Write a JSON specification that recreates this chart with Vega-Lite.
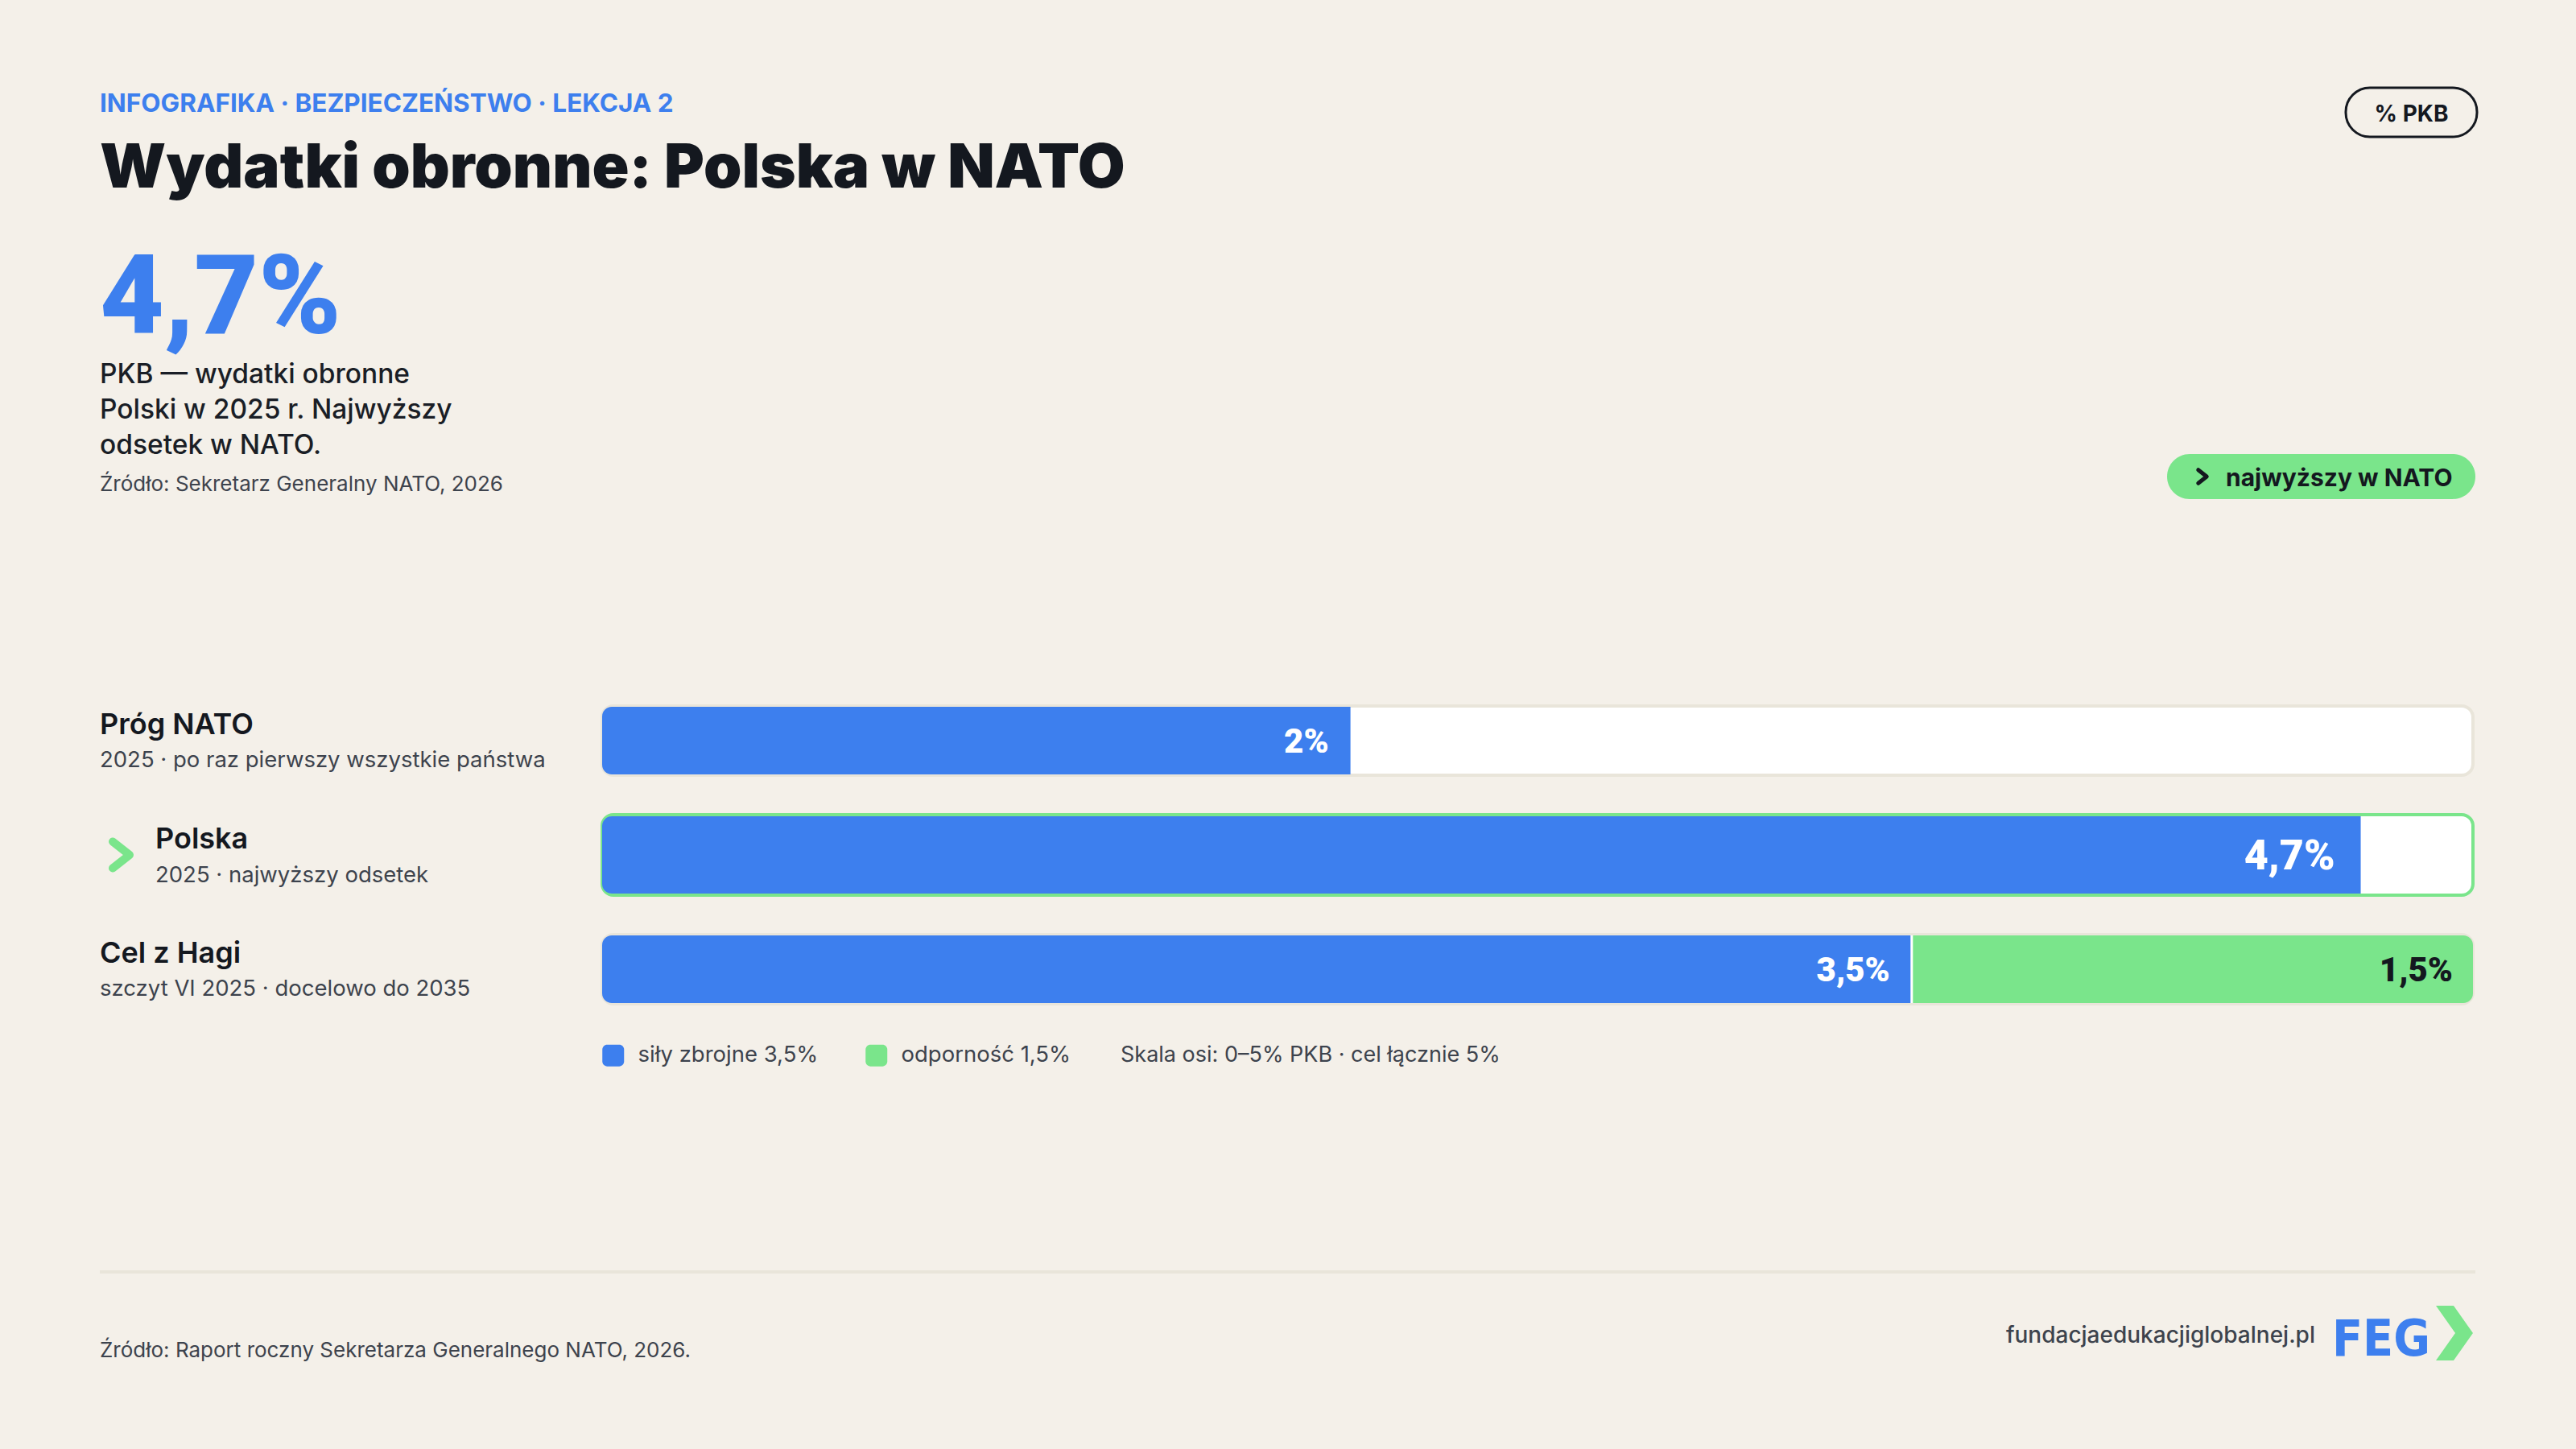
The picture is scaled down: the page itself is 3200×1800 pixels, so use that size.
{
  "$schema": "https://vega.github.io/schema/vega-lite/v6.json",
  "background": "#F4F0E9",
  "padding": {"left": 124, "right": 124, "top": 107, "bottom": 71},
  "spacing": 0,
  "resolve": {"scale": {"color": "independent"}, "legend": {"color": "independent"}},
  "config": {
    "view": {"stroke": null},
    "text": {"font": "Inter"},
    "concat": {"spacing": 0}
  },
  "datasets": {
    "teksty": [
      {"rola": "kicker", "tekst": "INFOGRAFIKA · BEZPIECZEŃSTWO · LEKCJA 2"},
      {"rola": "tytul", "tekst": "Wydatki obronne: Polska w NATO"},
      {"rola": "jednostka", "tekst": "% PKB"},
      {"rola": "liczba", "tekst": "4,7%"},
      {"rola": "opis", "tekst": "PKB — wydatki obronne\nPolski w 2025 r. Najwyższy\nodsetek w NATO."},
      {"rola": "zrodlo_gora", "tekst": "Źródło: Sekretarz Generalny NATO, 2026"},
      {"rola": "wyroznienie", "tekst": "najwyższy w NATO"},
      {"rola": "zrodlo", "tekst": "Źródło: Raport roczny Sekretarza Generalnego NATO, 2026."},
      {"rola": "www", "tekst": "fundacjaedukacjiglobalnej.pl"},
      {"rola": "logo", "tekst": "FEG"}
    ],
    "wiersze": [
      {"wiersz": "Próg NATO", "opis": "2025 · po raz pierwszy wszystkie państwa"},
      {"wiersz": "Polska", "opis": "2025 · najwyższy odsetek"},
      {"wiersz": "Cel z Hagi", "opis": "szczyt VI 2025 · docelowo do 2035"}
    ],
    "slupki": [
      {"wiersz": "Próg NATO", "skladnik": "ogółem", "od": 0, "do": 2, "etykieta": "2%"},
      {"wiersz": "Polska", "skladnik": "ogółem", "od": 0, "do": 4.7, "etykieta": "4,7%"},
      {"wiersz": "Cel z Hagi", "skladnik": "siły zbrojne 3,5%", "od": 0, "do": 3.5, "etykieta": "3,5%"},
      {"wiersz": "Cel z Hagi", "skladnik": "odporność 1,5%", "od": 3.5, "do": 5, "etykieta": "1,5%"}
    ]
  },
  "vconcat": [
    {
      "spacing": 0,
      "hconcat": [
        {
          "width": 2788, "height": 61,
          "data": {"name": "teksty"},
          "transform": [{"filter": "datum.rola === 'kicker'"}],
          "mark": {"type": "text", "align": "left", "baseline": "alphabetic", "dy": -1, "font": "Inter", "fontSize": 31.5, "fontWeight": 700, "color": "#3D7FEE"},
          "encoding": {
            "text": {"field": "tekst", "type": "nominal"},
            "x": {"datum": 0, "type": "quantitative", "scale": {"domain": [0, 1]}, "axis": null}
          }
        },
        {
          "width": 163, "height": 61,
          "view": {"stroke": "#14181F", "strokeWidth": 3, "cornerRadius": 30, "fill": null},
          "data": {"name": "teksty"},
          "transform": [{"filter": "datum.rola === 'jednostka'"}],
          "mark": {"type": "text", "align": "center", "baseline": "alphabetic", "dy": 11.5, "font": "Inter", "fontSize": 28, "fontWeight": 700, "color": "#14181F"},
          "encoding": {"text": {"field": "tekst", "type": "nominal"}}
        }
      ]
    },
    {
      "width": 2951, "height": 80,
      "data": {"name": "teksty"},
      "transform": [{"filter": "datum.rola === 'tytul'"}],
      "mark": {"type": "text", "align": "left", "baseline": "alphabetic", "dy": 20, "font": "Inter", "fontSize": 76, "fontWeight": 900, "color": "#14181F"},
      "encoding": {
        "text": {"field": "tekst", "type": "nominal"},
        "x": {"datum": 0, "type": "quantitative", "scale": {"domain": [0, 1]}, "axis": null}
      }
    },
    {
      "width": 2951, "height": 191,
      "data": {"name": "teksty"},
      "transform": [{"filter": "datum.rola === 'liczba'"}],
      "mark": {"type": "text", "align": "left", "baseline": "alphabetic", "dy": 65.5, "font": "Roboto", "fontSize": 138, "fontWeight": 900, "color": "#3D7FEE"},
      "encoding": {
        "text": {"field": "tekst", "type": "nominal"},
        "x": {"datum": 0, "type": "quantitative", "scale": {"domain": [0, 1]}, "axis": null}
      }
    },
    {
      "spacing": 0,
      "hconcat": [
        {
          "width": 2568, "height": 405,
          "data": {"name": "teksty"},
          "encoding": {
            "text": {"field": "tekst", "type": "nominal"},
            "x": {"datum": 0, "type": "quantitative", "scale": {"domain": [0, 1]}, "axis": null}
          },
          "layer": [
            {
              "transform": [{"filter": "datum.rola === 'opis'"}],
              "mark": {"type": "text", "align": "left", "baseline": "alphabetic", "dy": -170.5, "lineBreak": "\n", "lineHeight": 44, "font": "Inter", "fontSize": 33.5, "fontWeight": 500, "color": "#1A1E26"}
            },
            {
              "transform": [{"filter": "datum.rola === 'zrodlo_gora'"}],
              "mark": {"type": "text", "align": "left", "baseline": "alphabetic", "dy": -36.5, "font": "Inter", "fontSize": 26, "fontWeight": 400, "color": "#3D434D"}
            }
          ]
        },
        {
          "spacing": 0,
          "vconcat": [
            {"width": 383, "height": 120, "data": {"values": []}, "mark": "point"},
            {
              "width": 383, "height": 56,
              "view": {"fill": "#7AE58B", "stroke": null, "cornerRadius": 28},
              "data": {"name": "teksty"},
              "transform": [{"filter": "datum.rola === 'wyroznienie'"}],
              "encoding": {
                "x": {"datum": 0, "type": "quantitative", "scale": {"domain": [0, 1]}, "axis": null}
              },
              "layer": [
                {
                  "mark": {"type": "point", "shape": "M-0.35,-0.55L0.35,0L-0.35,0.55", "size": 900, "filled": false, "color": "#14181F", "stroke": "#14181F", "strokeWidth": 5, "strokeCap": "round", "strokeJoin": "round", "opacity": 1, "xOffset": 44}
                },
                {
                  "mark": {"type": "text", "align": "left", "baseline": "alphabetic", "dx": 73, "dy": 12, "font": "Inter", "fontSize": 30, "fontWeight": 700, "color": "#14181F"},
                  "encoding": {"text": {"field": "tekst", "type": "nominal"}}
                }
              ]
            }
          ]
        }
      ]
    },
    {
      "spacing": 0,
      "resolve": {"scale": {"color": "independent"}, "legend": {"color": "independent"}},
      "hconcat": [
        {
          "width": 622, "height": 426,
          "data": {"name": "wiersze"},
          "encoding": {
            "y": {"field": "wiersz", "type": "nominal", "sort": null, "scale": {"type": "band", "domain": ["Próg NATO", "Polska", "Cel z Hagi"], "paddingInner": 0, "paddingOuter": 0}, "axis": null},
            "x": {"datum": 0, "type": "quantitative", "scale": {"domain": [0, 1]}, "axis": null}
          },
          "layer": [
            {
              "transform": [{"filter": "datum.wiersz !== 'Polska'"}],
              "mark": {"type": "text", "align": "left", "baseline": "alphabetic", "dy": -8, "font": "Inter", "fontSize": 36, "fontWeight": 600, "color": "#14181F"},
              "encoding": {"text": {"field": "wiersz", "type": "nominal"}}
            },
            {
              "transform": [{"filter": "datum.wiersz === 'Polska'"}],
              "mark": {"type": "text", "align": "left", "baseline": "alphabetic", "dx": 69, "dy": -8, "font": "Inter", "fontSize": 36, "fontWeight": 600, "color": "#14181F"},
              "encoding": {"text": {"field": "wiersz", "type": "nominal"}}
            },
            {
              "transform": [{"filter": "datum.wiersz !== 'Polska'"}],
              "mark": {"type": "text", "align": "left", "baseline": "alphabetic", "dy": 33, "font": "Inter", "fontSize": 27.5, "fontWeight": 400, "color": "#3D434D"},
              "encoding": {"text": {"field": "opis", "type": "nominal"}}
            },
            {
              "transform": [{"filter": "datum.wiersz === 'Polska'"}],
              "mark": {"type": "text", "align": "left", "baseline": "alphabetic", "dx": 69, "dy": 34, "font": "Inter", "fontSize": 27.5, "fontWeight": 400, "color": "#3D434D"},
              "encoding": {"text": {"field": "opis", "type": "nominal"}}
            },
            {
              "transform": [{"filter": "datum.wiersz === 'Polska'"}],
              "mark": {"type": "point", "shape": "M-0.35,-0.55L0.35,0L-0.35,0.55", "size": 3600, "filled": false, "color": "#7AE58B", "stroke": "#7AE58B", "strokeWidth": 10, "strokeCap": "round", "strokeJoin": "round", "opacity": 1, "xOffset": 26.5}
            }
          ]
        },
        {
          "width": 2324, "height": 426,
          "encoding": {
            "y": {"field": "wiersz", "type": "nominal", "sort": null, "scale": {"type": "band", "domain": ["Próg NATO", "Polska", "Cel z Hagi"], "paddingInner": 0, "paddingOuter": 0}, "axis": null}
          },
          "layer": [
            {
              "data": {"name": "wiersze"},
              "transform": [{"filter": "datum.wiersz !== 'Polska'"}],
              "mark": {"type": "bar", "height": 86, "fill": "#FFFFFF", "stroke": "#E9E5DA", "strokeWidth": 4, "cornerRadius": 14},
              "encoding": {
                "x": {"datum": 0, "type": "quantitative", "scale": {"domain": [0, 5], "nice": false, "zero": true}, "axis": null},
                "x2": {"datum": 5}
              }
            },
            {
              "data": {"name": "wiersze"},
              "transform": [{"filter": "datum.wiersz === 'Polska'"}],
              "mark": {"type": "bar", "height": 100, "fill": "#FFFFFF", "stroke": "#7AE58B", "strokeWidth": 4, "cornerRadius": 14},
              "encoding": {
                "x": {"datum": 0, "type": "quantitative", "scale": {"domain": [0, 5], "nice": false, "zero": true}, "axis": null},
                "x2": {"datum": 5}
              }
            },
            {
              "data": {"name": "slupki"},
              "transform": [{"filter": "datum.wiersz === 'Próg NATO'"}],
              "mark": {"type": "bar", "height": 84, "color": "#3D7FEE", "cornerRadiusTopLeft": 12, "cornerRadiusBottomLeft": 12},
              "encoding": {
                "x": {"field": "od", "type": "quantitative", "scale": {"domain": [0, 5], "nice": false, "zero": true}, "axis": null},
                "x2": {"field": "do"}
              }
            },
            {
              "data": {"name": "slupki"},
              "transform": [{"filter": "datum.wiersz === 'Polska'"}],
              "mark": {"type": "bar", "height": 96, "color": "#3D7FEE", "cornerRadiusTopLeft": 12, "cornerRadiusBottomLeft": 12},
              "encoding": {
                "x": {"field": "od", "type": "quantitative", "scale": {"domain": [0, 5], "nice": false, "zero": true}, "axis": null},
                "x2": {"field": "do"}
              }
            },
            {
              "data": {"name": "slupki"},
              "transform": [{"filter": "datum.skladnik === 'siły zbrojne 3,5%'"}],
              "mark": {"type": "bar", "height": 84, "cornerRadiusTopLeft": 12, "cornerRadiusBottomLeft": 12},
              "encoding": {
                "x": {"field": "od", "type": "quantitative", "scale": {"domain": [0, 5], "nice": false, "zero": true}, "axis": null},
                "x2": {"field": "do"},
                "color": {
                  "field": "skladnik", "type": "nominal",
                  "scale": {"domain": ["siły zbrojne 3,5%", "odporność 1,5%"], "range": ["#3D7FEE", "#7AE58B"]},
                  "legend": {
                    "orient": "bottom", "direction": "horizontal",
                    "title": "Skala osi: 0–5% PKB · cel łącznie 5%", "titleOrient": "right",
                    "titleFont": "Inter", "titleFontSize": 27, "titleFontWeight": 400, "titleColor": "#3D434D", "titlePadding": 62, "titleLimit": 0,
                    "labelFont": "Inter", "labelFontSize": 27.5, "labelColor": "#3D434D", "labelOffset": 17, "labelLimit": 0,
                    "columnPadding": 58,
                    "symbolType": "M-1,-0.55C-1,-0.8,-0.8,-1,-0.55,-1L0.55,-1C0.8,-1,1,-0.8,1,-0.55L1,0.55C1,0.8,0.8,1,0.55,1L-0.55,1C-0.8,1,-1,0.8,-1,0.55Z",
                    "symbolSize": 729, "symbolStrokeWidth": 0, "symbolOpacity": 1,
                    "offset": 22, "padding": 0
                  }
                }
              }
            },
            {
              "data": {"name": "slupki"},
              "transform": [{"filter": "datum.skladnik === 'odporność 1,5%'"}],
              "mark": {"type": "bar", "height": 84, "cornerRadiusTopRight": 12, "cornerRadiusBottomRight": 12},
              "encoding": {
                "x": {"field": "od", "type": "quantitative", "scale": {"domain": [0, 5], "nice": false, "zero": true}, "axis": null},
                "x2": {"field": "do"},
                "color": {"field": "skladnik", "type": "nominal"}
              }
            },
            {
              "data": {"name": "slupki"},
              "transform": [{"filter": "datum.skladnik === 'odporność 1,5%'"}],
              "mark": {"type": "tick", "orient": "vertical", "thickness": 3, "size": 84, "color": "#FFFFFF", "opacity": 1},
              "encoding": {
                "x": {"field": "od", "type": "quantitative", "scale": {"domain": [0, 5], "nice": false, "zero": true}, "axis": null}
              }
            },
            {
              "data": {"name": "slupki"},
              "transform": [{"filter": "datum.wiersz === 'Próg NATO' || datum.skladnik === 'siły zbrojne 3,5%'"}],
              "mark": {"type": "text", "align": "right", "baseline": "alphabetic", "dx": -27, "dy": 15, "font": "Roboto", "fontSize": 42, "fontWeight": 900, "color": "#FFFFFF"},
              "encoding": {
                "x": {"field": "do", "type": "quantitative", "scale": {"domain": [0, 5], "nice": false, "zero": true}, "axis": null},
                "text": {"field": "etykieta", "type": "nominal"}
              }
            },
            {
              "data": {"name": "slupki"},
              "transform": [{"filter": "datum.wiersz === 'Polska'"}],
              "mark": {"type": "text", "align": "right", "baseline": "alphabetic", "dx": -32, "dy": 18, "font": "Roboto", "fontSize": 52, "fontWeight": 900, "color": "#FFFFFF"},
              "encoding": {
                "x": {"field": "do", "type": "quantitative", "scale": {"domain": [0, 5], "nice": false, "zero": true}, "axis": null},
                "text": {"field": "etykieta", "type": "nominal"}
              }
            },
            {
              "data": {"name": "slupki"},
              "transform": [{"filter": "datum.skladnik === 'odporność 1,5%'"}],
              "mark": {"type": "text", "align": "right", "baseline": "alphabetic", "dx": -25, "dy": 15, "font": "Roboto", "fontSize": 42, "fontWeight": 900, "color": "#14181F"},
              "encoding": {
                "x": {"field": "do", "type": "quantitative", "scale": {"domain": [0, 5], "nice": false, "zero": true}, "axis": null},
                "text": {"field": "etykieta", "type": "nominal"}
              }
            }
          ]
        }
      ]
    },
    {"width": 2951, "height": 253, "data": {"values": []}, "mark": "point"},
    {"width": 2951, "height": 4, "view": {"fill": "#E9E5DA", "stroke": null}, "data": {"values": []}, "mark": "point"},
    {
      "spacing": 0,
      "hconcat": [
        {
          "width": 2752, "height": 112,
          "data": {"name": "teksty"},
          "layer": [
            {
              "transform": [{"filter": "datum.rola === 'zrodlo'"}],
              "mark": {"type": "text", "align": "left", "baseline": "alphabetic", "dy": 48, "font": "Inter", "fontSize": 26, "fontWeight": 400, "color": "#3D434D"},
              "encoding": {
                "text": {"field": "tekst", "type": "nominal"},
                "x": {"datum": 0, "type": "quantitative", "scale": {"domain": [0, 1]}, "axis": null}
              }
            },
            {
              "transform": [{"filter": "datum.rola === 'www'"}],
              "mark": {"type": "text", "align": "right", "baseline": "alphabetic", "dy": 30, "font": "Inter", "fontSize": 28, "fontWeight": 500, "color": "#3D434D"},
              "encoding": {
                "text": {"field": "tekst", "type": "nominal"},
                "x": {"datum": 1, "type": "quantitative", "scale": {"domain": [0, 1]}, "axis": null}
              }
            }
          ]
        },
        {
          "width": 150, "height": 120,
          "data": {"name": "teksty"},
          "transform": [{"filter": "datum.rola === 'logo'"}],
          "mark": {"type": "text", "align": "right", "baseline": "alphabetic", "dx": -7, "dy": 42, "font": "'Liberation Sans Narrow', 'DejaVu Sans Condensed', Roboto", "fontSize": 62, "fontWeight": 700, "color": "#3D7FEE"},
          "encoding": {
            "text": {"field": "tekst", "type": "nominal"},
            "x": {"datum": 1, "type": "quantitative", "scale": {"domain": [0, 1]}, "axis": null}
          }
        },
        {
          "width": 46, "height": 148,
          "data": {"name": "teksty"},
          "transform": [{"filter": "datum.rola === 'logo'"}],
          "mark": {"type": "point", "shape": "M-0.676,-1L-0.03,-1L0.676,0L-0.03,1L-0.676,1L0.03,0Z", "size": 4624, "filled": true, "color": "#7AE58B", "opacity": 1, "strokeWidth": 0}
        }
      ]
    }
  ]
}
